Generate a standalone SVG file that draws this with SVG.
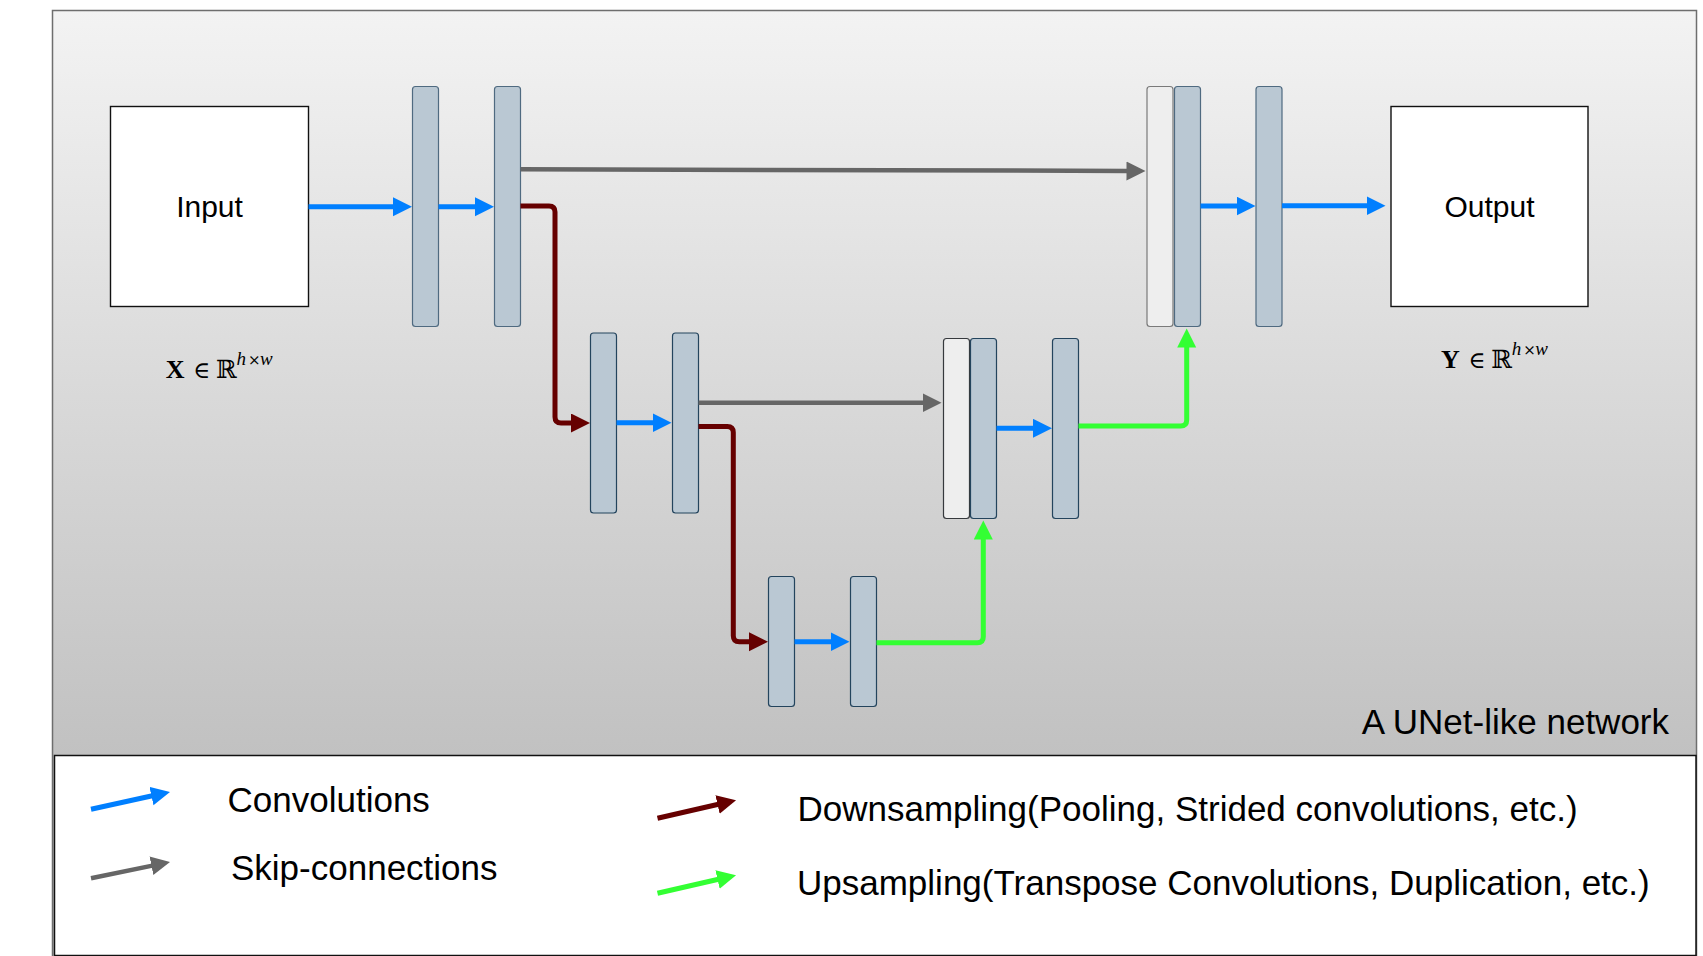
<svg xmlns="http://www.w3.org/2000/svg" width="1703" height="956" viewBox="0 0 1703 956">
<defs>
<linearGradient id="bg" gradientUnits="userSpaceOnUse" x1="0" y1="10" x2="0" y2="755">
<stop offset="0" stop-color="#f3f3f3"/>
<stop offset="1" stop-color="#c1c1c1"/>
</linearGradient>
<marker id="hBlue" markerUnits="userSpaceOnUse" markerWidth="20" markerHeight="20" refX="1" refY="9.5" orient="auto"><path d="M0,0 L19,9.5 L0,19 Z" fill="#007fff"/></marker>
<marker id="hGray" markerUnits="userSpaceOnUse" markerWidth="20" markerHeight="20" refX="1" refY="9.5" orient="auto"><path d="M0,0 L19,9.5 L0,19 Z" fill="#666666"/></marker>
<marker id="hRed" markerUnits="userSpaceOnUse" markerWidth="20" markerHeight="20" refX="1" refY="9.5" orient="auto"><path d="M0,0 L19,9.5 L0,19 Z" fill="#660000"/></marker>
<marker id="hGreen" markerUnits="userSpaceOnUse" markerWidth="20" markerHeight="20" refX="1" refY="9.5" orient="auto"><path d="M0,0 L19,9.5 L0,19 Z" fill="#33ff33"/></marker>
<style>
.bar{fill:#bac8d3;stroke:#23445d;stroke-width:1.2}
.bar1{fill:#bac8d3;stroke:#4f6a80;stroke-width:1.2}
.wbar{fill:#eeeeee;stroke:#36393d;stroke-width:1.2}
.wbar1{fill:#eeeeee;stroke:#7a7a7a;stroke-width:1.2}
.box{fill:#ffffff;stroke:#111111;stroke-width:1.4}
.lbl{font-family:"Liberation Sans",Arial,sans-serif;fill:#000}
.c{fill:none;stroke-width:5}
.blue{stroke:#007fff;marker-end:url(#hBlue)}
.gray{stroke:#666666;stroke-width:4.5;marker-end:url(#hGray)}
.red{stroke:#660000;marker-end:url(#hRed)}
.green{stroke:#33ff33;marker-end:url(#hGreen)}
.m{font-family:"Liberation Serif","DejaVu Serif",serif;fill:#000}
.ms{font-family:"DejaVu Serif","DejaVu Sans",serif;fill:#000}
</style>
</defs>

<g id="frame">
<rect x="52.5" y="10.5" width="1644" height="950" fill="url(#bg)" stroke="#6e6e6e" stroke-width="1.5"/>
<text class="lbl" x="1669" y="734" font-size="35" text-anchor="end">A UNet-like network</text>
</g>

<g id="input">
<rect class="box" x="110.5" y="106.5" width="198" height="200"/>
<text class="lbl" x="209.5" y="217" font-size="30" text-anchor="middle">Input</text>
</g>
<g id="input-math">
<text class="m" x="165.7" y="377.7" font-size="26" font-weight="bold">X</text>
<text class="ms" x="193" y="377.7" font-size="23">∈</text>
<text class="ms" x="216" y="377.7" font-size="25">ℝ</text>
<text class="m" x="236.5" y="365" font-size="19" font-style="italic">h</text>
<text class="ms" x="248" y="365" font-size="15">×</text>
<text class="m" x="260" y="365" font-size="19" font-style="italic">w</text>
</g>

<g id="output">
<rect class="box" x="1391" y="106.5" width="197" height="200"/>
<text class="lbl" x="1489.5" y="217" font-size="30" text-anchor="middle">Output</text>
</g>
<g id="output-math">
<text class="m" x="1441" y="367.7" font-size="26" font-weight="bold">Y</text>
<text class="ms" x="1468.3" y="367.7" font-size="23">∈</text>
<text class="ms" x="1491.3" y="367.7" font-size="25">ℝ</text>
<text class="m" x="1511.8" y="355" font-size="19" font-style="italic">h</text>
<text class="ms" x="1523.3" y="355" font-size="15">×</text>
<text class="m" x="1535.3" y="355" font-size="19" font-style="italic">w</text>
</g>

<g id="enc1a"><rect class="bar1" x="412.5" y="86.5" width="26" height="240" rx="3"/></g>
<g id="enc1b"><rect class="bar1" x="494.5" y="86.5" width="26" height="240" rx="3"/></g>
<g id="enc2a"><rect class="bar" x="590.5" y="333" width="26" height="180" rx="3"/></g>
<g id="enc2b"><rect class="bar" x="672.5" y="333" width="26" height="180" rx="3"/></g>
<g id="bott1"><rect class="bar" x="768.5" y="576.5" width="26" height="130" rx="3"/></g>
<g id="bott2"><rect class="bar" x="850.5" y="576.5" width="26" height="130" rx="3"/></g>
<g id="dec2-skip"><rect class="wbar" x="943.5" y="338.5" width="26" height="180" rx="3"/></g>
<g id="dec2-up"><rect class="bar" x="970.5" y="338.5" width="26" height="180" rx="3"/></g>
<g id="dec2c"><rect class="bar" x="1052.5" y="338.5" width="26" height="180" rx="3"/></g>
<g id="dec1-skip"><rect class="wbar1" x="1147" y="86.5" width="26" height="240" rx="3"/></g>
<g id="dec1-up"><rect class="bar1" x="1174.5" y="86.5" width="26" height="240" rx="3"/></g>
<g id="dec1c"><rect class="bar1" x="1256" y="86.5" width="26" height="240" rx="3"/></g>

<g id="connectors">
<path class="c blue" d="M308.5,206.7 H394"/>
<path class="c blue" d="M438.5,206.7 H476"/>
<path class="c gray" d="M520.5,169.3 L1127.5,170.9"/>
<path class="c red" d="M520.5,206 H549 Q555,206 555,212 V417 Q555,423 561,423 H572"/>
<path class="c blue" d="M616.5,422.7 H653.5"/>
<path class="c gray" d="M698.5,402.7 H923.5"/>
<path class="c red" d="M698.5,426.5 H727.3 Q733.3,426.5 733.3,432.5 V635.7 Q733.3,641.7 739.3,641.7 H750"/>
<path class="c blue" d="M794.5,641.7 H831.5"/>
<path class="c green" d="M876.5,642.7 H977.3 Q983.3,642.7 983.3,636.7 V538.5"/>
<path class="c blue" d="M996.5,428.3 H1034"/>
<path class="c green" d="M1078.5,426 H1180.7 Q1186.7,426 1186.7,420 V346.5"/>
<path class="c blue" d="M1200.5,206 H1237.5"/>
<path class="c blue" d="M1282,205.7 H1367.5"/>
</g>

<g id="legend">
<rect x="54.5" y="755.5" width="1641.5" height="200" fill="#ffffff" stroke="#111111" stroke-width="1.5"/>
<path class="c blue" d="M91,809.3 L152.4,795.8"/>
<path class="c gray" d="M91,878.3 L152.4,865.6"/>
<path class="c red" d="M657.5,818.3 L718.5,804.3"/>
<path class="c green" d="M657.5,893.3 L718.5,879.3"/>
<text class="lbl" x="227.5" y="811.5" font-size="35">Convolutions</text>
<text class="lbl" x="231" y="880" font-size="35">Skip-connections</text>
<text class="lbl" x="797.5" y="820.5" font-size="35">Downsampling(Pooling, Strided convolutions, etc.)</text>
<text class="lbl" x="797" y="894.5" font-size="35">Upsampling(Transpose Convolutions, Duplication, etc.)</text>
</g>
</svg>
